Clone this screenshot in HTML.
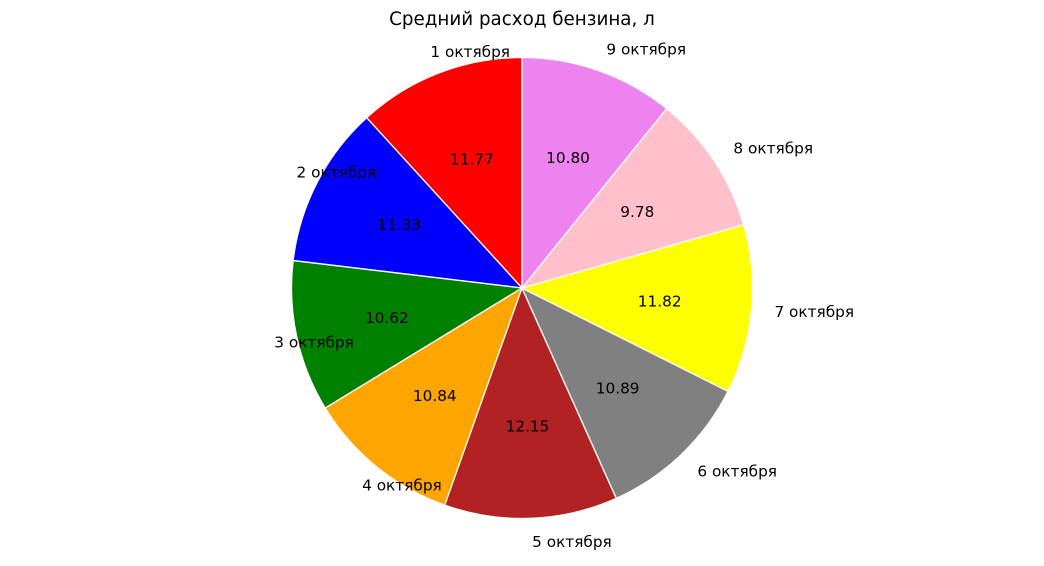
<!DOCTYPE html>
<html><head><meta charset="utf-8"><style>
html,body{margin:0;padding:0;background:#fff}
svg text{font-family:"DejaVu Sans","Liberation Sans",sans-serif;fill:#000}
</style></head><body>
<svg id="chart" width="1044" height="561" viewBox="0 0 1044 561" xmlns="http://www.w3.org/2000/svg">
<rect width="1044" height="561" fill="#fff"/>
<text x="522" y="25" text-anchor="middle" font-size="18.3">Средний расход бензина, л</text>
<g id="slices"></g><g id="labels"></g>
</svg>
<script>
const categories = ["1 октября","2 октября","3 октября","4 октября","5 октября","6 октября","7 октября","8 октября","9 октября"];
const values = [11.77,11.33,10.62,10.84,12.15,10.89,11.82,9.78,10.80];
const colors = ["red","blue","green","orange","#b22222","gray","yellow","pink","violet"];
const NS="http://www.w3.org/2000/svg";
const cx=522, cy=288, r=230.5;
const total=values.reduce((a,b)=>a+b,0);
const sg=document.getElementById('slices'), lg=document.getElementById('labels');
let start=90;
values.forEach((v,i)=>{
  const sweep=v/total*360, end=start+sweep;
  const a1=start*Math.PI/180, a2=end*Math.PI/180;
  const x1=cx+r*Math.cos(a1), y1=cy-r*Math.sin(a1), x2=cx+r*Math.cos(a2), y2=cy-r*Math.sin(a2);
  const p=document.createElementNS(NS,'path');
  p.setAttribute('d',`M${cx},${cy} L${x1},${y1} A${r},${r} 0 ${sweep>180?1:0} 0 ${x2},${y2} Z`);
  p.setAttribute('fill',colors[i]);p.setAttribute('stroke','#fff');p.setAttribute('stroke-width','1.3');p.setAttribute('stroke-linejoin','round');
  
  
  sg.appendChild(p);
  const m=(start+sweep/2)*Math.PI/180;
  const t=document.createElementNS(NS,'text');
  t.setAttribute('x',cx+1.1*r*Math.cos(m));t.setAttribute('y',cy-1.1*r*Math.sin(m)+5.5);
  t.setAttribute('font-size','15.3');t.textContent=categories[i];
  
  
  lg.appendChild(t);
  const v2=document.createElementNS(NS,'text');
  v2.setAttribute('x',cx+0.6*r*Math.cos(m));v2.setAttribute('y',cy-0.6*r*Math.sin(m)+5.5);
  v2.setAttribute('font-size','15.3');v2.setAttribute('text-anchor','middle');v2.textContent=v.toFixed(2);
  
  
  lg.appendChild(v2);
  start=end;
});
</script>
</body></html>
